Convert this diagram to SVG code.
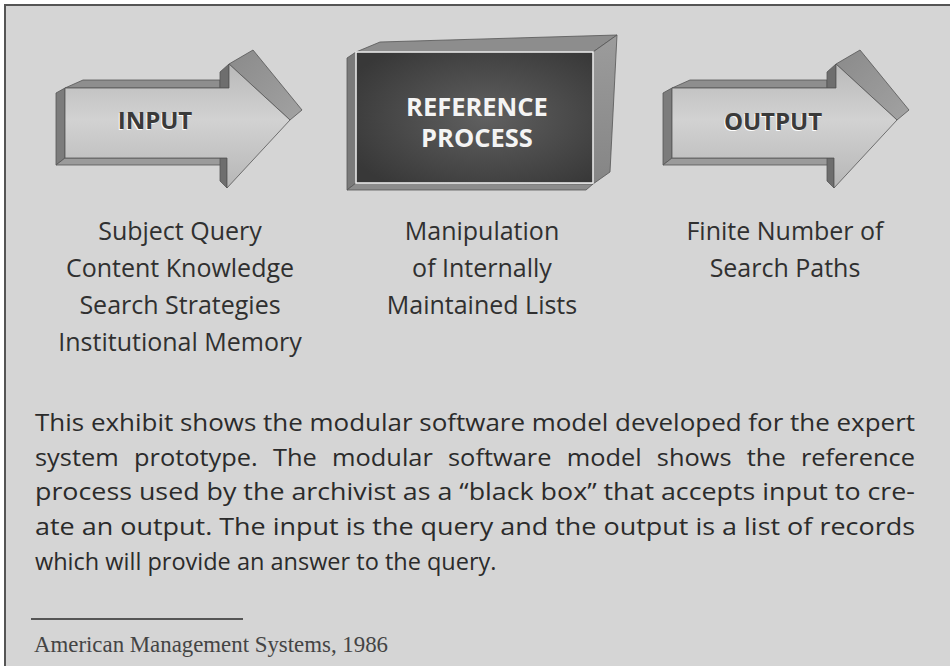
<svg xmlns="http://www.w3.org/2000/svg" xmlns:xlink="http://www.w3.org/1999/xlink" width="950" height="666" viewBox="0 0 950 666">
  <style>
    .label { font-family: "Open Sans", "Noto Sans", sans-serif; font-size: 25px; fill: #303030; text-anchor: middle; }
    .tag { font-family: "Open Sans", "Noto Sans", sans-serif; font-weight: bold; font-size: 24px; text-anchor: middle; }
    .tag-dark { fill: #3a3a3a; }
    .tag-halo { fill: #ffffff; }
    .tag-white { fill: #f4f4f4; font-size: 25.5px; }
    .body { font-family: "Open Sans", "Noto Sans", sans-serif; font-size: 23.5px; fill: #2b2b2b; }
    .source { font-family: "Liberation Serif", "Times New Roman", serif; font-size: 22.5px; fill: #444; }
    .edge { stroke: #555; stroke-width: 0.8; stroke-linejoin: round; }
  </style>
  <defs>
    <linearGradient id="frontGrad" x1="0" y1="0" x2="0" y2="1">
      <stop offset="0" stop-color="#b9b9b9"/>
      <stop offset="0.45" stop-color="#d2d2d2"/>
      <stop offset="1" stop-color="#b6b6b6"/>
    </linearGradient>
    <linearGradient id="headGrad" x1="0" y1="0" x2="1" y2="1">
      <stop offset="0" stop-color="#8a8a8a"/>
      <stop offset="1" stop-color="#a2a2a2"/>
    </linearGradient>
    <radialGradient id="boxGrad" cx="0.55" cy="0.5" r="0.65">
      <stop offset="0" stop-color="#606060"/>
      <stop offset="1" stop-color="#383838"/>
    </radialGradient>
    <linearGradient id="sideGrad" x1="0" y1="0" x2="0" y2="1">
      <stop offset="0" stop-color="#9c9c9c"/>
      <stop offset="1" stop-color="#858585"/>
    </linearGradient>

    <!-- bevelled 3D arrow, drawn at the position of the first one -->
    <g id="arrowBody">
      <polygon class="edge" points="65,88 83,80 220,80 220,88" fill="#8e8e8e"/>
      <polygon class="edge" points="56,93 65,88 65,158 56,165" fill="#7c7c7c"/>
      <polygon class="edge" points="56,165 65,158 227,158 220,165" fill="#9b9b9b"/>
      <polygon class="edge" points="220,72 229,64 229,88 220,88" fill="#6e6e6e"/>
      <polygon class="edge" points="220,158 227,158 227,188 220,181" fill="#6e6e6e"/>
      <polygon class="edge" points="229,64 253,50 302,110 290,120" fill="url(#headGrad)"/>
      <path class="edge" d="M65,88 H229 V64 L290,120 L227,188 V158 H65 Z" fill="url(#frontGrad)"/>
    </g>
  </defs>

  <!-- page and frame -->
  <rect x="0" y="0" width="950" height="666" fill="#ffffff"/>
  <rect x="5" y="5" width="945" height="661" fill="#d5d5d5"/>
  <path d="M5,666 V5 H950" fill="none" stroke="#555" stroke-width="2"/>

  <g id="connectors"></g>

  <!-- input arrow -->
  <g id="node-input">
    <use xlink:href="#arrowBody"/>
    <text class="tag tag-halo" x="154" y="130">INPUT</text>
    <text class="tag tag-dark" x="155" y="129">INPUT</text>
  </g>

  <!-- central process box -->
  <g id="node-process">
    <polygon class="edge" points="356,52 380,42 617,35 593,52" fill="#8d8d8d"/>
    <polygon class="edge" points="593,52 617,35 610,172 593,184" fill="url(#sideGrad)"/>
    <polygon class="edge" points="347,58 356,52 356,183 347,190" fill="#7a7a7a"/>
    <polygon class="edge" points="347,190 356,183 593,184 586,190" fill="#8c8c8c"/>
    <rect x="356" y="52" width="237" height="131" fill="url(#boxGrad)" stroke="#f2f2f2" stroke-width="1.5"/>
    <text class="tag tag-white"><tspan x="477" y="116">REFERENCE</tspan><tspan x="477" y="147">PROCESS</tspan></text>
  </g>

  <!-- output arrow -->
  <g id="node-output">
    <use xlink:href="#arrowBody" transform="translate(607,0)"/>
    <text class="tag tag-halo" x="772" y="131">OUTPUT</text>
    <text class="tag tag-dark" x="773" y="130">OUTPUT</text>
  </g>

  <!-- descriptions under each stage -->
  <g id="text-input">
    <text class="label" x="180" y="240">Subject Query</text>
    <text class="label" x="180" y="277">Content Knowledge</text>
    <text class="label" x="180" y="314">Search Strategies</text>
    <text class="label" x="180" y="351">Institutional Memory</text>
  </g>
  <g id="text-process">
    <text class="label" x="482" y="240">Manipulation</text>
    <text class="label" x="482" y="277">of Internally</text>
    <text class="label" x="482" y="314">Maintained Lists</text>
  </g>
  <g id="text-output">
    <text class="label" x="785" y="240">Finite Number of</text>
    <text class="label" x="785" y="277">Search Paths</text>
  </g>

  <!-- justified caption paragraph, each full line fitted to the measure -->
  <g id="caption">
    <text class="body" x="35" y="431" textLength="880" lengthAdjust="spacingAndGlyphs">This exhibit shows the modular software model developed for the expert</text>
    <text class="body" x="35" y="466" word-spacing="8" textLength="880" lengthAdjust="spacingAndGlyphs">system prototype. The modular software model shows the reference</text>
    <text class="body" x="35" y="500" textLength="880" lengthAdjust="spacingAndGlyphs">process used by the archivist as a “black box” that accepts input to cre-</text>
    <text class="body" x="35" y="535" textLength="880" lengthAdjust="spacingAndGlyphs">ate an output. The input is the query and the output is a list of records</text>
    <text class="body" x="35" y="570">which will provide an answer to the query.</text>
  </g>

  <!-- source note -->
  <g id="source">
    <line x1="31" y1="619" x2="243" y2="619" stroke="#555" stroke-width="1.8"/>
    <text class="source" x="34" y="652" textLength="354" lengthAdjust="spacingAndGlyphs">American Management Systems, 1986</text>
  </g>
</svg>
